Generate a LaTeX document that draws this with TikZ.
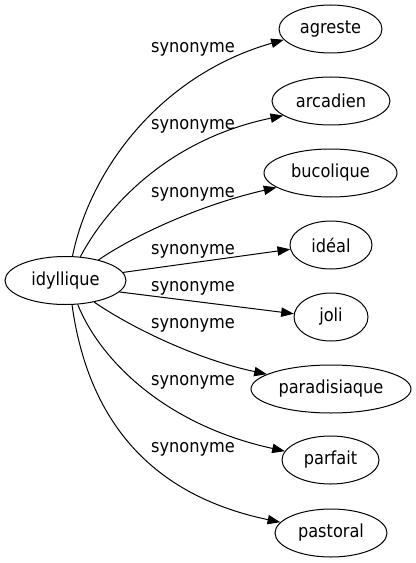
\documentclass[tikz,border=0pt]{standalone}
\usepackage{fontspec}
\setmainfont{DejaVu Sans Condensed}
\usetikzlibrary{shapes.geometric,arrows.meta}
\tikzset{
  nd/.style={draw, ellipse, line width=0.75pt, inner sep=0pt, minimum height=36pt, font=\fontsize{13.5}{16}\selectfont},
  lbl/.style={inner sep=0pt, font=\fontsize{13.5}{16}\selectfont},
  edge/.style={draw, line width=0.75pt, -{Triangle[length=9.5pt, width=7pt]}}
}
\begin{document}
\begin{tikzpicture}[x=0.75pt, y=-0.75pt]
\useasboundingbox (0,0) rectangle (416,563);
\node[nd, minimum width=90.75pt] (idy) at (65.5,280.5) {idyllique};
\node[nd, minimum width=77.25pt] (agr) at (330.5,29) {agreste};
\node[nd, minimum width=88.5pt] (arc) at (331,101) {arcadien};
\node[nd, minimum width=99.75pt] (buc) at (330.5,173) {bucolique};
\node[nd, minimum width=61.5pt] (ide) at (331,245) {idéal};
\node[nd, minimum width=55.5pt] (jol) at (331,317) {joli};
\node[nd, minimum width=120pt] (par) at (331,389) {paradisiaque};
\node[nd, minimum width=72.75pt] (prf) at (330.5,460) {parfait};
\node[nd, minimum width=84pt] (pas) at (331,533) {pastoral};

\node[lbl] (l1) at (193,49) {synonyme};
\node[lbl] (l2) at (193,126) {synonyme};
\node[lbl] (l3) at (193,194) {synonyme};
\node[lbl] (l4) at (193,251) {synonyme};
\node[lbl] (l5) at (193,288) {synonyme};
\node[lbl] (l6) at (193,325) {synonyme};
\node[lbl] (l7) at (193,382) {synonyme};
\node[lbl] (l8) at (193,449) {synonyme};

\path[edge] (idy.74) .. controls (90,170) and (160,75) .. (agr.193.6);
\path[edge] (idy.58) .. controls (105,210) and (165,140) .. (arc.197.5);
\path[edge] (idy.32) .. controls (135,235) and (200,205) .. (buc.195);
\path[edge] (idy.8.4) -- (ide.186.8);
\path[edge] (idy.-12) -- (jol.175.4);
\path[edge] (idy.-37) .. controls (135,330) and (200,360) .. (par.167.7);
\path[edge] (idy.-63) .. controls (100,360) and (165,425) .. (prf.169.3);
\path[edge] (idy.-75) .. controls (88,420) and (150,495) .. (pas.168);
\end{tikzpicture}
\end{document}
